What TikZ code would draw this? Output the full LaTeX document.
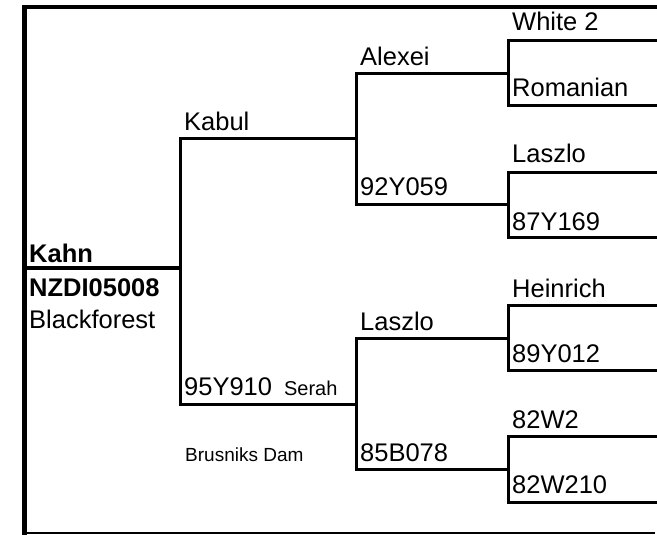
\documentclass[tikz,border=0pt]{standalone}
\usepackage{fontspec}
\setmainfont{Liberation Sans}

\begin{document}
\begin{tikzpicture}[x=1pt, y=-1pt,
    pname/.style={anchor=base west, inner sep=0pt, font=\fontsize{25.5}{29}\selectfont},
    pnote/.style={anchor=base west, inner sep=0pt, font=\fontsize{19}{22}\selectfont},
    tree/.style={line width=3pt},
    rim/.style={line width=5pt}]
  \useasboundingbox (0,0) rectangle (657,535);

  % Frame
  \coordinate (tl) at (24.5,7);
  \coordinate (bl) at (24.5,535);
  \coordinate (edge) at (657,7);
  \draw[rim] (bl) -- (tl);
  \draw[line width=4pt] (22,7) -- (edge);
  \draw[line width=2pt] (22,533) -- (655,533);

  % Line starts, one per animal
  \coordinate (kahn) at (22,268);
  \coordinate (kabul) at (180,139);
  \coordinate (sn95) at (180,404);
  \coordinate (alexei) at (356,74);
  \coordinate (n92) at (356,204);
  \coordinate (laszloA) at (356,338);
  \coordinate (n85) at (356,469);
  \coordinate (white) at (508,41);
  \coordinate (romanian) at (508,106);
  \coordinate (laszloB) at (508,172);
  \coordinate (n87) at (508,237);
  \coordinate (heinrich) at (508,305);
  \coordinate (n89) at (508,370);
  \coordinate (w82) at (508,436);
  \coordinate (w210) at (508,502);

  % Subject
  \draw[line width=4pt] (kahn) -- (kahn -| kabul);
  \node[pname, font=\fontsize{25.5}{29}\selectfont\bfseries] (kahnT) at (29,262) {Kahn};
  \node[pname, font=\fontsize{25.5}{29}\selectfont\bfseries] (regT) at (29,296) {NZDI05008};
  \node[pname] (breedT) at (29,328) {Blackforest};

  % Parents
  \draw[tree] (kabul -| alexei) -- (kabul) -- (sn95) -- (sn95 -| alexei);
  \node[pname] (kabulT) at (184,131) {Kabul};
  \node[pname] (sn95T) at (184,395) {95Y910\hspace{12pt}{\fontsize{20}{22}\selectfont Serah}};
  \node[pnote] (damT) at (185,461) {Brusniks Dam};

  % Grandparents
  \draw[tree] (alexei -| white) -- (alexei) -- (n92) -- (n92 -| white);
  \draw[tree] (laszloA -| white) -- (laszloA) -- (n85) -- (n85 -| white);
  \node[pname] (alexeiT) at (360,66) {Alexei};
  \node[pname] (n92T) at (360,195) {92Y059};
  \node[pname] (laszloAT) at (360,330) {Laszlo};
  \node[pname] (n85T) at (360,461) {85B078};

  % Great-grandparents
  \draw[tree] (white -| edge) -- (white) -- (romanian) -- (romanian -| edge);
  \draw[tree] (laszloB -| edge) -- (laszloB) -- (n87) -- (n87 -| edge);
  \draw[tree] (heinrich -| edge) -- (heinrich) -- (n89) -- (n89 -| edge);
  \draw[tree] (w82 -| edge) -- (w82) -- (w210) -- (w210 -| edge);
  \node[pname] (whiteT) at (512,31) {White 2};
  \node[pname] (romanianT) at (512,97) {Romanian};
  \node[pname] (laszloBT) at (512,163) {Laszlo};
  \node[pname] (n87T) at (512,230) {87Y169};
  \node[pname] (heinrichT) at (512,297) {Heinrich};
  \node[pname] (n89T) at (512,362) {89Y012};
  \node[pname] (w82T) at (512,428) {82W2};
  \node[pname] (w210T) at (512,493) {82W210};
\end{tikzpicture}
\end{document}
